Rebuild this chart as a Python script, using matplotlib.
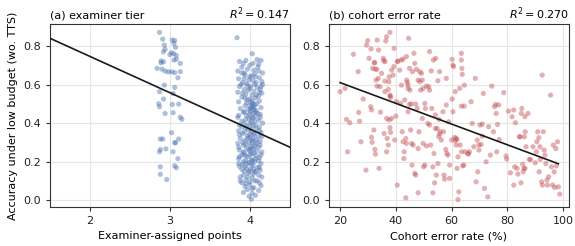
import matplotlib.pyplot as plt
import numpy as np

# panel (a): examiner-assigned points vs accuracy (x already carries the strip jitter)
tier3 = [
    (2.87, 0.871), (2.91, 0.836), (2.93, 0.805), (2.94, 0.783), (2.92, 0.770),
    (3.03, 0.831), (3.06, 0.828), (3.05, 0.814), (3.07, 0.793), (3.02, 0.765),
    (3.00, 0.755), (3.05, 0.760), (3.08, 0.750), (2.89, 0.723), (2.89, 0.713),
    (2.92, 0.718), (3.05, 0.727), (3.08, 0.731), (3.13, 0.710), (2.84, 0.684),
    (2.90, 0.680), (2.94, 0.670), (2.98, 0.666), (3.02, 0.666), (3.06, 0.662),
    (3.13, 0.667), (3.10, 0.635), (2.93, 0.597), (2.87, 0.563), (3.06, 0.585),
    (3.04, 0.554), (2.92, 0.525), (2.86, 0.500), (2.87, 0.485), (3.03, 0.497),
    (3.11, 0.499), (2.94, 0.450), (3.04, 0.454), (3.13, 0.430), (3.15, 0.420),
    (2.88, 0.317), (2.91, 0.317), (3.02, 0.350), (3.06, 0.298), (3.07, 0.298),
    (3.11, 0.317), (2.88, 0.263), (2.87, 0.251), (2.95, 0.266), (3.04, 0.251),
    (3.10, 0.215), (2.88, 0.173), (3.06, 0.178), (3.08, 0.168), (2.88, 0.134),
    (2.96, 0.107),
]

tier4 = [
    (3.84, 0.843),
    (4.03, 0.760), (3.95, 0.725), (3.87, 0.720), (4.09, 0.730), (4.14, 0.725),
    (3.92, 0.710), (4.00, 0.700), (4.10, 0.690), (3.85, 0.670), (3.97, 0.680),
    (4.05, 0.675), (4.11, 0.670), (4.16, 0.660), (3.90, 0.660), (3.94, 0.650),
    (4.02, 0.645), (4.07, 0.640), (4.12, 0.635), (3.86, 0.630), (3.99, 0.625),
    (4.04, 0.620), (4.15, 0.615), (3.91, 0.610), (3.96, 0.605), (4.06, 0.600),
    (4.16, 0.600), (3.87, 0.590), (4.01, 0.590), (4.09, 0.585), (4.13, 0.575),
    (3.93, 0.575), (3.98, 0.570), (4.05, 0.565), (3.85, 0.560), (4.15, 0.555),
    (3.95, 0.550), (4.03, 0.545), (4.11, 0.540), (3.90, 0.535), (4.07, 0.530),
    (4.00, 0.525), (3.97, 0.520), (4.12, 0.515), (3.86, 0.510), (4.02, 0.505),
    (4.04, 0.500), (4.06, 0.495), (3.94, 0.490), (4.00, 0.490), (4.03, 0.485),
    (4.14, 0.480), (3.88, 0.475), (4.05, 0.470), (3.98, 0.470), (4.08, 0.465),
    (4.01, 0.460), (3.92, 0.455), (4.04, 0.450), (4.13, 0.445), (3.96, 0.440),
    (4.07, 0.435), (3.85, 0.430), (4.02, 0.430), (3.99, 0.420), (4.11, 0.415),
    (3.90, 0.410), (4.06, 0.410), (3.93, 0.400), (4.16, 0.400), (4.00, 0.395),
    (3.87, 0.390), (4.04, 0.385), (4.12, 0.380), (3.95, 0.375), (4.08, 0.370),
    (3.98, 0.365), (3.86, 0.360), (4.02, 0.355), (4.14, 0.350), (3.91, 0.345),
    (4.06, 0.340), (3.97, 0.335), (4.11, 0.330), (4.00, 0.325), (3.88, 0.320),
    (4.04, 0.320), (4.08, 0.315), (3.94, 0.310), (4.13, 0.305), (3.99, 0.300),
    (4.03, 0.300), (3.85, 0.295), (4.07, 0.290), (3.92, 0.285), (4.01, 0.280),
    (4.11, 0.275), (3.96, 0.270), (4.05, 0.265), (3.87, 0.260), (4.00, 0.255),
    (4.15, 0.250), (3.93, 0.245), (4.03, 0.240), (3.90, 0.235), (4.08, 0.230),
    (3.97, 0.225), (4.12, 0.220), (3.86, 0.215), (4.02, 0.210), (3.95, 0.205),
    (4.06, 0.200), (3.99, 0.195), (4.14, 0.190), (3.91, 0.185), (4.04, 0.180),
    (3.87, 0.175), (4.10, 0.170), (3.96, 0.165), (4.01, 0.160), (4.13, 0.155),
    (3.93, 0.150), (4.06, 0.145), (3.98, 0.140), (4.11, 0.130), (3.88, 0.120),
    (4.03, 0.115), (3.95, 0.105), (4.09, 0.100), (3.90, 0.090), (4.00, 0.080),
    (4.14, 0.075), (3.94, 0.070), (4.05, 0.065), (3.97, 0.055), (4.11, 0.050),
    (3.92, 0.040), (4.03, 0.035), (4.07, 0.025), (3.99, 0.020), (4.02, 0.005),
    (3.93, 0.630), (4.08, 0.610), (3.89, 0.600), (4.00, 0.580), (4.12, 0.560),
    (3.94, 0.530), (4.03, 0.515), (4.09, 0.500), (3.96, 0.505), (4.05, 0.480),
    (4.01, 0.475), (4.07, 0.455), (3.93, 0.460), (4.10, 0.450), (3.99, 0.445),
    (3.86, 0.440), (4.04, 0.425), (3.95, 0.420), (4.13, 0.430), (4.02, 0.405),
    (3.90, 0.380), (4.07, 0.390), (3.96, 0.385), (4.01, 0.370), (4.12, 0.360),
    (3.93, 0.355), (4.05, 0.345), (3.87, 0.340), (4.00, 0.340), (4.15, 0.330),
    (3.97, 0.320), (4.03, 0.310), (4.09, 0.300), (3.91, 0.300), (3.95, 0.290),
    (4.06, 0.280), (4.13, 0.285), (3.86, 0.275), (4.02, 0.270), (3.99, 0.260),
    (4.09, 0.255), (3.92, 0.250), (4.05, 0.245), (4.00, 0.235), (3.94, 0.230),
    (4.14, 0.235), (3.87, 0.225), (4.07, 0.215), (4.03, 0.205), (3.92, 0.200),
    (4.11, 0.205), (3.97, 0.190), (4.02, 0.185), (3.86, 0.190), (4.12, 0.170),
    (3.94, 0.175), (4.05, 0.160), (3.90, 0.160), (4.08, 0.150), (3.99, 0.150),
    (4.04, 0.135), (3.92, 0.130), (4.15, 0.120), (3.97, 0.120), (4.06, 0.100),
    (3.88, 0.100), (4.00, 0.095), (4.12, 0.090), (3.95, 0.085), (4.03, 0.060),
    (3.93, 0.660), (4.06, 0.655), (4.00, 0.640), (3.90, 0.690), (4.04, 0.710),
    (4.11, 0.705), (3.97, 0.595), (4.14, 0.590), (3.91, 0.555), (4.08, 0.545),
]

# panel (b): cohort error rate (%) vs accuracy
cohort = [
    (20.0, 0.563), (21.8, 0.580), (24.8, 0.757), (22.3, 0.419), (23.5, 0.402),
    (22.7, 0.251), (26.5, 0.667), (26.7, 0.455), (27.0, 0.410), (27.5, 0.303),
    (28.3, 0.525), (29.3, 0.156), (29.5, 0.805), (29.9, 0.828), (30.4, 0.736),
    (31.1, 0.785), (31.7, 0.684), (32.3, 0.715), (32.4, 0.712), (32.6, 0.680),
    (33.2, 0.679), (32.9, 0.623), (31.0, 0.485), (31.3, 0.468), (31.3, 0.326),
    (31.5, 0.300), (32.1, 0.364), (32.5, 0.263), (32.7, 0.239), (33.3, 0.831),
    (33.8, 0.779), (33.3, 0.592), (34.3, 0.589), (33.7, 0.632), (34.0, 0.165),
    (34.5, 0.457), (34.9, 0.658), (35.5, 0.736), (35.7, 0.724), (36.1, 0.719),
    (35.8, 0.346), (36.1, 0.618), (36.1, 0.563), (36.4, 0.826), (36.7, 0.848),
    (36.7, 0.251), (36.9, 0.320), (36.7, 0.424), (37.3, 0.575), (37.5, 0.615),
    (37.6, 0.640), (37.9, 0.871), (37.9, 0.545), (38.1, 0.533), (38.0, 0.540),
    (37.9, 0.376), (38.1, 0.352), (37.6, 0.416), (37.3, 0.286), (38.5, 0.424),
    (38.5, 0.675), (39.0, 0.649), (39.4, 0.788), (39.3, 0.693), (39.6, 0.312),
    (40.0, 0.436), (40.2, 0.511), (40.5, 0.719), (40.5, 0.078), (40.8, 0.722),
    (41.4, 0.675), (41.7, 0.502), (42.0, 0.727), (42.0, 0.597), (42.3, 0.355),
    (42.6, 0.303), (42.6, 0.732), (42.9, 0.216), (43.0, 0.251), (43.2, 0.520),
    (43.6, 0.012), (43.6, 0.320), (43.8, 0.294), (43.8, 0.745), (43.9, 0.623),
    (44.1, 0.611), (44.4, 0.597), (44.4, 0.580), (44.4, 0.459), (44.6, 0.840),
    (44.9, 0.684), (44.9, 0.497), (45.1, 0.571), (45.3, 0.364), (45.5, 0.499),
    (45.7, 0.294), (45.8, 0.182), (46.0, 0.667), (46.2, 0.286), (46.5, 0.762),
    (46.8, 0.710), (46.8, 0.139), (47.1, 0.130), (47.1, 0.499), (47.4, 0.679),
    (47.7, 0.476), (48.0, 0.623), (48.0, 0.038), (48.0, 0.268), (48.3, 0.355),
    (48.6, 0.615), (48.6, 0.667), (49.2, 0.658), (48.9, 0.571), (49.5, 0.623),
    (49.5, 0.424), (49.8, 0.580), (49.8, 0.294), (50.0, 0.173), (50.4, 0.182),
    (50.4, 0.502), (50.6, 0.476), (51.0, 0.281), (51.0, 0.592), (51.5, 0.398),
    (51.8, 0.589), (52.1, 0.771), (52.1, 0.390), (52.1, 0.571), (52.5, 0.286),
    (52.7, 0.671), (52.9, 0.476), (53.3, 0.038), (53.3, 0.173), (53.5, 0.727),
    (53.7, 0.242), (53.9, 0.090), (54.2, 0.372), (54.3, 0.736), (54.2, 0.442),
    (54.5, 0.130), (54.8, 0.372), (55.1, 0.620), (55.1, 0.190), (55.4, 0.329),
    (55.5, 0.419), (55.7, 0.667), (55.7, 0.343), (55.9, 0.355), (56.3, 0.312),
    (56.9, 0.459), (57.1, 0.355), (57.3, 0.130), (57.5, 0.109), (57.9, 0.263),
    (58.1, 0.632), (58.1, 0.494), (58.3, 0.242), (58.7, 0.234), (59.0, 0.407),
    (59.3, 0.182), (59.3, 0.113), (60.0, 0.312), (60.2, 0.731), (60.5, 0.701),
    (60.5, 0.459), (60.2, 0.525), (60.7, 0.693), (61.1, 0.326), (61.3, 0.563),
    (61.3, 0.308), (61.7, 0.320), (61.9, 0.315), (61.7, 0.286), (62.0, 0.165),
    (62.3, 0.003), (62.3, 0.225), (62.6, 0.043), (62.9, 0.580), (63.1, 0.286),
    (63.5, 0.762), (63.5, 0.727), (63.7, 0.684), (63.5, 0.488), (63.6, 0.251),
    (63.8, 0.653), (64.0, 0.178), (64.4, 0.182), (64.5, 0.488), (64.6, 0.597),
    (64.9, 0.251), (65.8, 0.242), (66.1, 0.239), (66.4, 0.251), (67.0, 0.511),
    (67.4, 0.398), (68.0, 0.277), (68.5, 0.632), (68.8, 0.095), (69.2, 0.312),
    (69.4, 0.147), (69.8, 0.286), (69.8, 0.260), (70.2, 0.390), (71.0, 0.395),
    (70.6, 0.289), (71.0, 0.332), (71.4, 0.554), (71.8, 0.061), (72.4, 0.199),
    (73.0, 0.017), (73.3, 0.381), (73.9, 0.234), (74.4, 0.592), (75.0, 0.355),
    (75.4, 0.485), (75.8, 0.497), (76.0, 0.450), (76.2, 0.251), (76.5, 0.393),
    (76.9, 0.494), (77.1, 0.315), (78.7, 0.558), (79.5, 0.229), (79.8, 0.213),
    (80.4, 0.462), (81.1, 0.142), (81.7, 0.433), (82.3, 0.468), (82.3, 0.078),
    (82.6, 0.173), (82.9, 0.402), (83.5, 0.165), (83.8, 0.135), (84.3, 0.329),
    (84.6, 0.329), (84.9, 0.090), (85.0, 0.450), (85.2, 0.476), (85.5, 0.187),
    (85.7, 0.147), (86.0, 0.165), (86.1, 0.329), (86.3, 0.433), (86.3, 0.165),
    (86.4, 0.355), (86.7, 0.277), (87.4, 0.450), (87.9, 0.211), (88.3, 0.211),
    (89.2, 0.277), (90.0, 0.194), (90.4, 0.251), (90.6, 0.303), (90.9, 0.355),
    (91.3, 0.324), (91.4, 0.147), (91.7, 0.277), (91.8, 0.211), (92.3, 0.095),
    (92.5, 0.649), (92.6, 0.078), (92.9, 0.355), (93.2, 0.260), (93.5, 0.234),
    (93.8, 0.190), (94.2, 0.104), (94.4, 0.078), (94.8, 0.121), (95.5, 0.545),
    (95.8, 0.173), (96.2, 0.078), (96.5, 0.286), (96.8, 0.147), (97.0, 0.066),
    (97.4, 0.268), (97.6, 0.178), (98.0, 0.303), (98.3, 0.069), (98.8, 0.031),
]

# fitted lines (slope, intercept, x range)
fit_a = (-0.1883, 1.1225, 1.5, 4.5)
fit_b = (-0.00538, 0.7177, 20.0, 98.3)
r2_a = 0.147
r2_b = 0.270

blue = '#4C72B0'
red = '#C44E52'

plt.rcParams['font.family'] = 'DejaVu Sans'
plt.rcParams['font.size'] = 8

fig = plt.figure(figsize=(5.75, 2.46), dpi=100)
ax1 = fig.add_axes([0.087, 0.159, 0.417, 0.744])
ax2 = fig.add_axes([0.572, 0.159, 0.417, 0.744])


def style(ax):
    ax.grid(True, color='#e6e6e6', linewidth=0.8)
    ax.set_axisbelow(True)
    for sp in ax.spines.values():
        sp.set_color('#333333')
        sp.set_linewidth(0.8)
    ax.tick_params(length=3, width=0.8, colors='#333333', labelcolor='#222222',
                   labelsize=8)
    ax.set_ylim(-0.035, 0.915)
    ax.set_yticks([0.0, 0.2, 0.4, 0.6, 0.8])


def draw_fit(ax, fit):
    k, b, x0, x1 = fit
    xs = np.array([x0, x1])
    ax.plot(xs, k * xs + b, color='#1a1a1a', linewidth=1.2, zorder=3)


a3 = np.array(tier3)
a4 = np.array(tier4)
ax1.scatter(a3[:, 0], a3[:, 1], s=14, color=blue, alpha=0.45, edgecolors='none')
ax1.scatter(a4[:, 0], a4[:, 1], s=14, color=blue, alpha=0.45, edgecolors='none')
draw_fit(ax1, fit_a)
ax1.set_xlim(1.5, 4.5)
ax1.set_xticks([2, 3, 4])
style(ax1)
ax1.set_xlabel('Examiner-assigned points', fontsize=8)
ax1.set_ylabel('Accuracy under low budget (wo. TTS)', fontsize=8)
ax1.set_title('(a) examiner tier', loc='left', fontsize=8, pad=4)
ax1.set_title(r'$R^2 = %.3f$' % r2_a, loc='right', fontsize=8, pad=4)

c = np.array(cohort)
ax2.scatter(c[:, 0], c[:, 1], s=14, color=red, alpha=0.45, edgecolors='none')
draw_fit(ax2, fit_b)
ax2.set_xlim(16, 102)
ax2.set_xticks([20, 40, 60, 80, 100])
style(ax2)
ax2.set_xlabel('Cohort error rate (%)', fontsize=8)
ax2.set_title('(b) cohort error rate', loc='left', fontsize=8, pad=4)
ax2.set_title(r'$R^2 = %.3f$' % r2_b, loc='right', fontsize=8, pad=4)

fig.savefig('out.png', dpi=100)
